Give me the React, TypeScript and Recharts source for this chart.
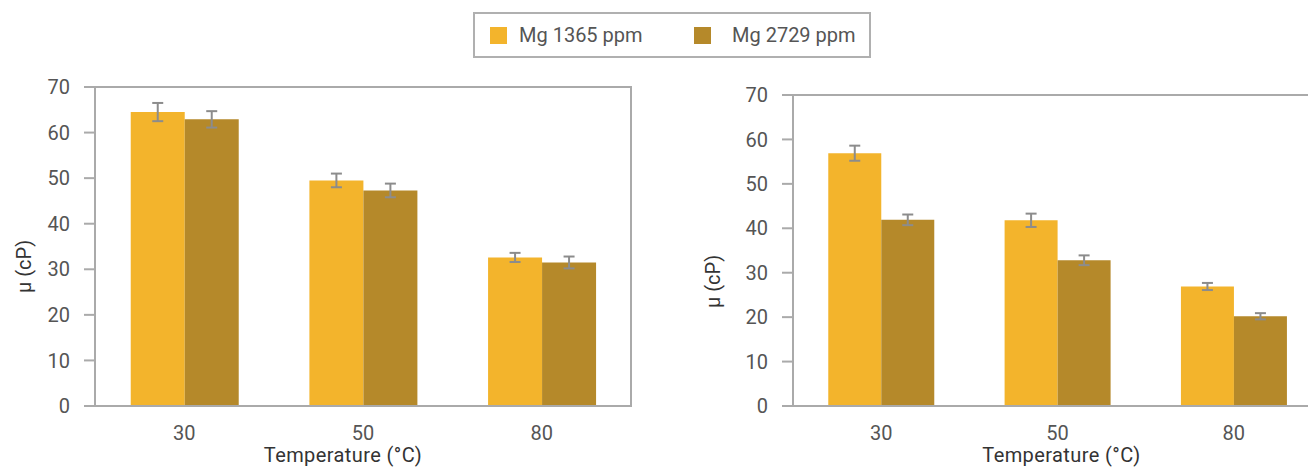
import { BarChart, Bar, XAxis, YAxis, ErrorBar, ReferenceArea } from "recharts";

const categories = ["30", "50", "80"];
const seriesNames = ["Mg 1365 ppm", "Mg 2729 ppm"];
const yTicks = [0, 10, 20, 30, 40, 50, 60, 70];

// left panel
const leftLow = [64.5, 49.5, 32.6];
const leftLowErr = [2.0, 1.5, 1.0];
const leftHigh = [62.9, 47.3, 31.5];
const leftHighErr = [1.8, 1.5, 1.3];

// right panel
const rightLow = [56.9, 41.8, 26.9];
const rightLowErr = [1.7, 1.5, 0.8];
const rightHigh = [41.9, 32.8, 20.2];
const rightHighErr = [1.2, 1.1, 0.7];

const colors = ["#F3B42C", "#B5892A"];
const axisColor = "#aaaaaa";
const textColor = "#555555";
const font = "Roboto, 'Noto Sans', sans-serif";

const build = (a: number[], aErr: number[], b: number[], bErr: number[]) =>
  categories.map((c, i) => ({ temp: c, low: a[i], lowErr: aErr[i], high: b[i], highErr: bErr[i] }));

const leftData = build(leftLow, leftLowErr, leftHigh, leftHighErr);
const rightData = build(rightLow, rightLowErr, rightHigh, rightHighErr);

interface PanelProps {
  data: ReturnType<typeof build>;
  width: number;
  top: number;
  right: number;
  yWidth: number;
  yLabelOffset: number;
  yLabelDy: number;
  xLabelDx: number;
}

const Panel = ({ data, width, top, right, yWidth, yLabelOffset, yLabelDy, xLabelDx }: PanelProps) => (
  <BarChart
    width={width}
    height={471}
    data={data}
    margin={{ top, right, bottom: 0, left: 0 }}
    barCategoryGap="20%"
    barGap={0}
  >
    <XAxis
      dataKey="temp"
      height={65}
      tickSize={0}
      tickMargin={20}
      axisLine={{ stroke: axisColor, strokeWidth: 2 }}
      tick={{ fill: textColor, fontSize: 20, fontFamily: font }}
      label={{
        value: "Temperature (°C)",
        position: "insideBottom",
        offset: 9,
        dx: xLabelDx,
        fill: "#333",
        fontSize: 20,
        fontFamily: font,
        letterSpacing: 0.4,
      }}
    />
    <YAxis
      width={yWidth}
      domain={[0, 70]}
      ticks={yTicks}
      interval={0}
      tickSize={11}
      tickMargin={14}
      axisLine={{ stroke: axisColor, strokeWidth: 2 }}
      tickLine={{ stroke: axisColor, strokeWidth: 2 }}
      tick={{ fill: textColor, fontSize: 20, fontFamily: font }}
      label={{
        value: "μ (cP)",
        angle: -90,
        position: "insideLeft",
        offset: yLabelOffset,
        dy: yLabelDy,
        fill: "#333",
        fontSize: 20,
        fontFamily: font,
        style: { textAnchor: "middle" },
      }}
    />
    <ReferenceArea y1={0} y2={70} fill="none" stroke={axisColor} strokeWidth={2} />
    <Bar dataKey="low" fill={colors[0]} isAnimationActive={false}>
      <ErrorBar dataKey="lowErr" width={5.5} stroke="#8c8c8c" strokeWidth={2} />
    </Bar>
    <Bar dataKey="high" fill={colors[1]} isAnimationActive={false}>
      <ErrorBar dataKey="highErr" width={5.5} stroke="#8c8c8c" strokeWidth={2} />
    </Bar>
  </BarChart>
);

const LegendBox = () => (
  <div
    style={{
      position: "absolute",
      left: 473,
      top: 12,
      width: 398,
      height: 46,
      border: `2px solid #b0b0b0`,
      boxSizing: "border-box",
      fontFamily: font,
      fontSize: 20,
      color: textColor,
    }}
  >
    {seriesNames.map((name, i) => (
      <div
        key={name}
        style={{
          position: "absolute",
          left: i === 0 ? 15 : 219,
          top: 0,
          height: 42,
          display: "flex",
          alignItems: "center",
        }}
      >
        <span style={{ width: 17, height: 17, background: colors[i], display: "inline-block" }} />
        <span style={{ marginLeft: i === 0 ? 12 : 21 }}>{name}</span>
      </div>
    ))}
  </div>
);

export default function App() {
  return (
    <div
      style={{
        position: "absolute",
        left: 0,
        top: 0,
        width: 1308,
        height: 471,
        overflow: "hidden",
        background: "#fff",
      }}
    >
      <div style={{ position: "absolute", left: 0, top: 0 }}>
        <Panel data={leftData} width={650} top={87} right={19} yWidth={95} yLabelOffset={24} yLabelDy={20} xLabelDx={-20} />
      </div>
      <div style={{ position: "absolute", left: 700, top: 0 }}>
        <Panel data={rightData} width={640} top={95} right={18} yWidth={93} yLabelOffset={13} yLabelDy={31} xLabelDx={4} />
      </div>
      <LegendBox />
    </div>
  );
}
